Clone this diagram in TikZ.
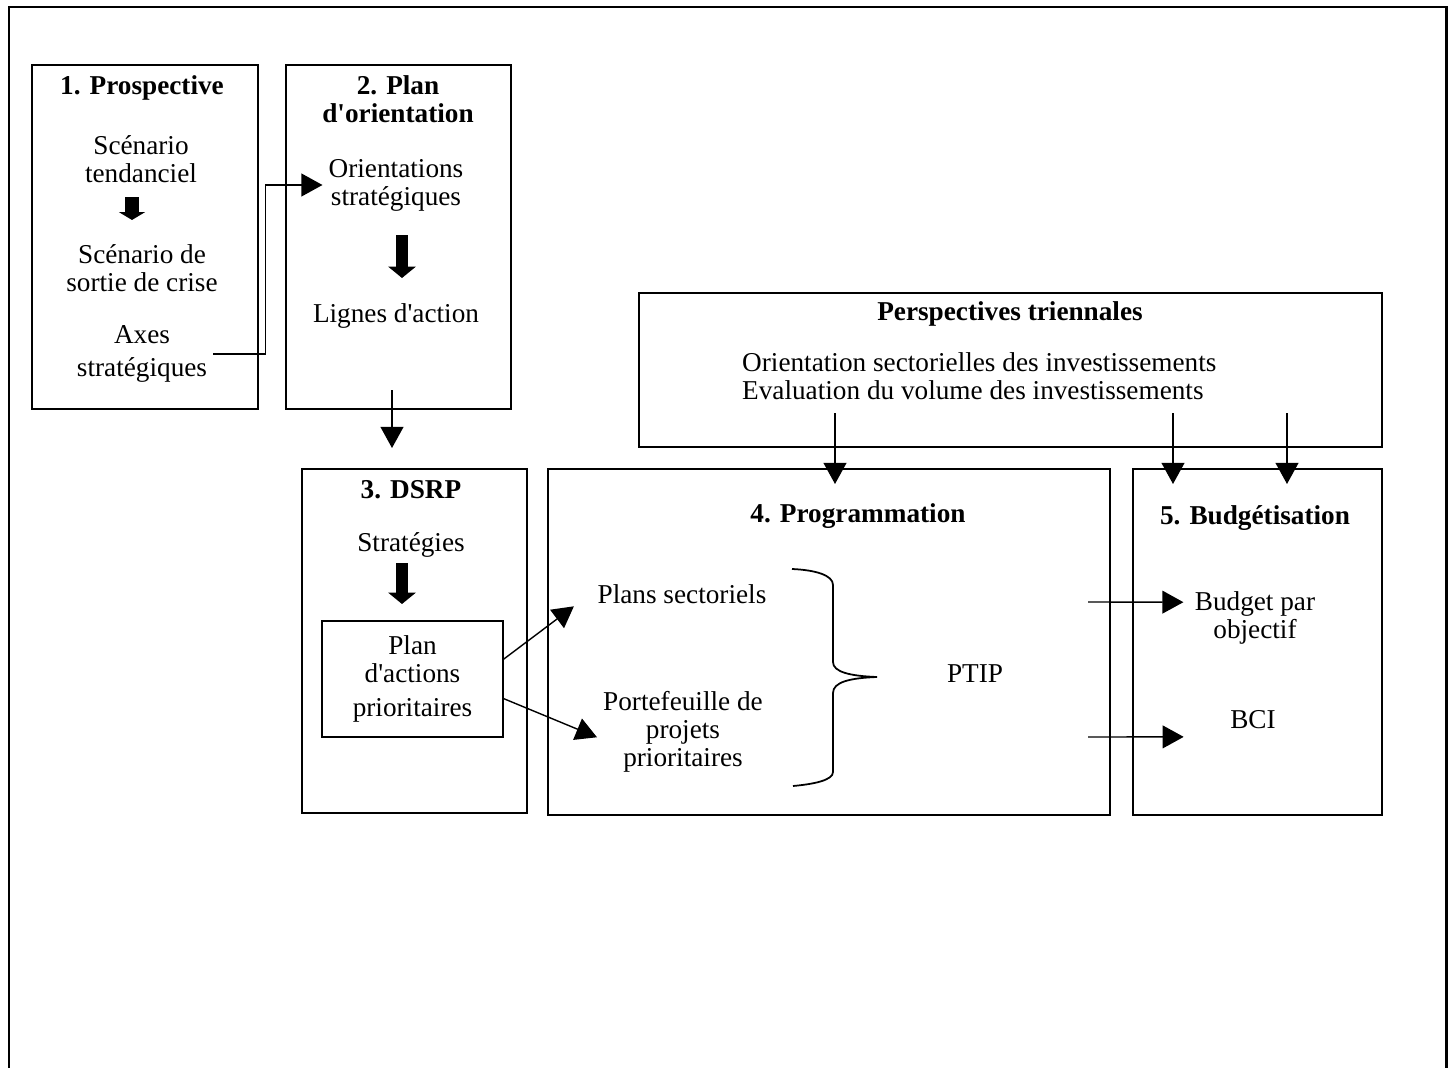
\documentclass[tikz,border=0pt]{standalone}
\usepackage{fontspec}
\setmainfont{Liberation Serif}
\usetikzlibrary{arrows.meta}

\begin{document}
\begin{tikzpicture}[x=0.02cm, y=-0.02cm,
  every node/.style={font=\fontsize{15.5}{16}\selectfont, align=center},
  title/.style={font=\fontsize{15.5}{16}\selectfont\bfseries},
  box/.style={draw, line width=1.1pt, inner sep=0pt, outer sep=0pt},
  arr/.style={line width=0.8pt, -{Triangle[length=12pt,width=13pt]}},
  fat/.style={line width=6.8pt, -{Triangle[length=6.5pt,width=15.5pt]}}]
\useasboundingbox (0,0) rectangle (1454,1068);
% cadre
\draw[line width=1.7pt] (9,1068) |- (1446,7) -- (1446,1068);

% 1. Prospective
\node[box, minimum width=4.52cm, minimum height=6.88cm] (b1) at (145,237) {};
\node[title] (t1) at (142,88) {1. Prospective};
\node (sc1) at (141,159) {Scénario\\tendanciel};
\draw[fat, line width=7.9pt, -{Triangle[length=4.5pt,width=14.7pt]}] (132,197) -- (132,220);
\node (sc2) at (142,268) {Scénario de\\sortie de crise};
\node (axes) at (142,354) {Axes\\[3pt]stratégiques};

% 2. Plan d'orientation
\node[box, minimum width=4.5cm, minimum height=6.88cm] (b2) at (398.5,237) {};
\node[title] (t2) at (398,99) {2. Plan\\d\textquotesingle orientation};
\node (orient) at (396,185) {Orientations\\stratégiques};
\draw[fat] (402,235) -- (402,278);
\node (lignes) at (396,316) {Lignes d\textquotesingle action};
\draw[arr] (axes.east) -- ++(52,0) |- (orient.west);
\coordinate (l1) at (392,390);
\coordinate (l2) at (392,448);
\draw[arr] (l1) -- (l2);

% Perspectives triennales
\node[box, minimum width=14.86cm, minimum height=3.08cm] (persp) at (1010.5,370) {};
\node[title] (tp) at (1010,314) {Perspectives triennales};
\node[anchor=west, align=left] (invest) at (736,376)
  {Orientation sectorielles des investissements\\Evaluation du volume des investissements};

% 3. DSRP
\node[box, minimum width=4.5cm, minimum height=6.88cm] (b3) at (414.5,641) {};
\node[title] (t3) at (411,490) {3. DSRP};
\node (strat) at (411,545) {Stratégies};
\draw[fat] (402,563) -- (402,604);
\node[box, minimum width=3.62cm, minimum height=2.32cm] (pap) at (412.5,679)
  {Plan\\d\textquotesingle actions\\[3pt]prioritaires};

% 4. Programmation
\node[box, minimum width=11.24cm, minimum height=6.92cm] (b4) at (829,642) {};
\node[title] (t4) at (858,516) {4. Programmation};
\node (plans) at (682,594) {Plans sectoriels};
\node (port) at (683,732) {Portefeuille de\\projets\\prioritaires};
\draw[line width=1pt] (792,569) .. controls (815,570) and (833,575) .. (833,585)
  -- (833,662) .. controls (833,672) and (850,676) .. (877,677)
  .. controls (850,678) and (833,682) .. (833,693)
  -- (833,772) .. controls (833,780) and (815,784) .. (793,786);
\node (ptip) at (975,674) {PTIP};
\draw[arr] ([yshift=11pt]pap.east) -- ([xshift=-10pt,yshift=-7pt]plans.west);
\draw[arr] ([yshift=-11pt]pap.east) -- ([yshift=-3pt]port.west);

% 5. Budgetisation
\node[box, minimum width=4.98cm, minimum height=6.92cm] (b5) at (1257.5,642) {};
\node[title] (t5) at (1255,518) {5. Budgétisation};
\node (budget) at (1255,618) {Budget par\\objectif};
\node (bci) at (1253,720) {BCI};
\coordinate (s1) at (1088,602);
\coordinate (s2) at (1088,737);
\draw[arr] (s1) -- ([xshift=-3pt,yshift=9pt]budget.west);
\draw[arr] (s2) -- ([xshift=-23pt,yshift=-9.6pt]bci.west);

% fleches des perspectives
\coordinate (q1) at (835,413);
\coordinate (q2) at (1173,413);
\coordinate (q3) at (1287,413);
\draw[arr] (q1) -- (835,484);
\draw[arr] (q2) -- (1173,484);
\draw[arr] (q3) -- (1287,484);

\end{tikzpicture}
\end{document}
